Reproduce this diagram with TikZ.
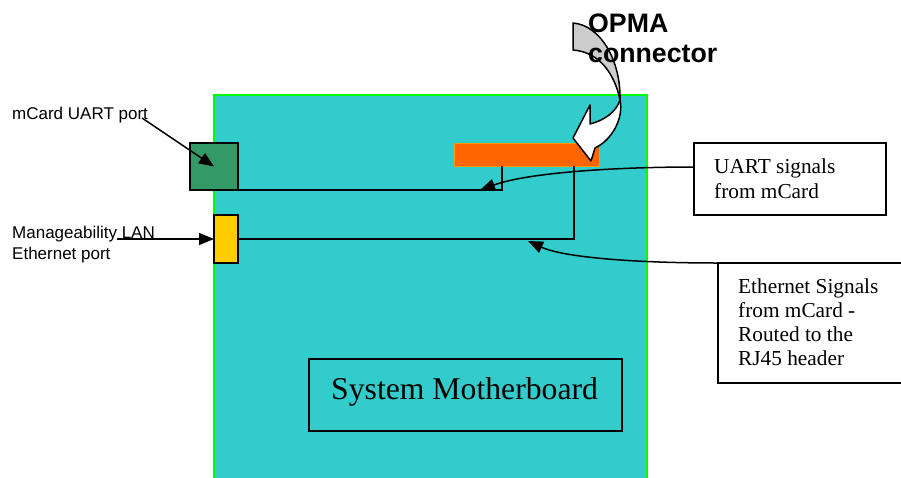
\documentclass[tikz,border=0pt]{standalone}
\usepackage{fontspec}
\newfontfamily\arialf{Liberation Sans}
\newfontfamily\timesf{Liberation Serif}
\usetikzlibrary{arrows.meta}
\definecolor{boardc}{HTML}{33CCCC}
\definecolor{boardedge}{HTML}{00FF00}
\definecolor{uartc}{HTML}{339966}
\definecolor{ethc}{HTML}{FFCC00}
\definecolor{opmac}{HTML}{FF6600}
\definecolor{opmaedge}{HTML}{FF9900}
\definecolor{backc}{HTML}{CCCCCC}
\tikzset{
  part/.style={rectangle, inner sep=0pt, outer sep=0pt, anchor=north west},
  board/.style={part, fill=boardc, draw=boardedge, line width=2pt},
  port/.style={part, draw=black, line width=1.5pt},
  labelbox/.style={part, draw=black, line width=1.5pt},
  wire/.style={draw=black, line width=1.5pt},
  pointer/.style={draw=black, line width=1.5pt, -{Triangle[length=15pt,width=12pt]}},
  sanslabel/.style={inner sep=0pt, anchor=base west, font=\arialf\fontsize{17}{20}\selectfont},
  seriflabel/.style={inner sep=0pt, anchor=base west, font=\timesf\fontsize{21.3}{24}\selectfont},
  titlelabel/.style={inner sep=0pt, anchor=base west, font=\arialf\bfseries\fontsize{26.7}{31}\selectfont},
  bigserif/.style={inner sep=0pt, anchor=base west, font=\timesf\fontsize{31.7}{36}\selectfont},
  bentarrow/.style={draw=black, line width=1.5pt, line join=round}
}
\begin{document}
\begin{tikzpicture}[x=1pt,y=-1pt]
\clip (0,0) rectangle (901,477);
\fill[white] (0,0) rectangle (901,477);

% motherboard
\node[board, minimum width=433, minimum height=400] (board) at (214,95) {};

% ports and connector
\node[port, fill=uartc, minimum width=48, minimum height=47] (uartport) at (190,143) {};
\node[port, fill=ethc, minimum width=24, minimum height=48] (ethport) at (214,215) {};
\node[part, fill=opmac, draw=opmaedge, line width=1pt, minimum width=145, minimum height=23] (opma) at (454,143) {};

% wires
\coordinate (uartup) at (502,166);
\coordinate (ethup) at (574,166);
\draw[wire] (uartport.south east) -| (uartup);
\draw[wire] (ethport.east) -| (ethup);

% callout boxes
\node[labelbox, fill=white, minimum width=192, minimum height=72] (uartbox) at (694,143) {};
\node[labelbox, fill=white, minimum width=190, minimum height=120] (ethbox) at (718,263) {};
\node[labelbox, minimum width=313, minimum height=72] (mbbox) at (309,359) {};

% callout texts
\node[seriflabel] (ut1) at (714,173) {UART signals};
\node[seriflabel] (ut2) at (714,198) {from mCard};
\node[seriflabel] (et1) at (738,293) {Ethernet Signals};
\node[seriflabel] (et2) at (738,317) {from mCard -};
\node[seriflabel] (et3) at (738,341) {Routed to the};
\node[seriflabel] (et4) at (738,365) {RJ45 header};
\node[bigserif] (mbt) at (331,399) {System Motherboard};

% callout arrows
\coordinate (uartin) at (694,167);
\coordinate (uarttip) at (480,190);
\coordinate (ethtip) at (528,241);
\draw[pointer] (uartin) .. controls (620,167) and (530,172) .. (uarttip);
\draw[pointer] (ethbox.north west) .. controls (640,263) and (565,258) .. (ethtip);

% left labels
\node[sanslabel] (lu) at (12,119) {mCard UART port};
\node[sanslabel] (lm1) at (12,238) {Manageability LAN};
\node[sanslabel] (lm2) at (12,259) {Ethernet port};
\coordinate (lustart) at (142,118);
\coordinate (lmstart) at (117,239);
\draw[pointer] (lustart) -- (uartport.center);
\draw[pointer] (lmstart) -- (ethport.west);

% OPMA curved arrow
\filldraw[bentarrow, fill=backc] (573,23) .. controls (600,25) and (621,60) .. (620,100)
   .. controls (615,75) and (600,52) .. (573,50) -- cycle;
\filldraw[bentarrow, fill=white] (620,100) .. controls (624,118) and (612,140) .. (595,148)
   -- (591,161) -- (573,138) -- (590,105) -- (590,124)
   .. controls (605,120) and (616,112) .. (620,100) -- cycle;
\node[titlelabel] (opt1) at (588,32) {OPMA};
\node[titlelabel] (opt2) at (588,62) {connector};
\end{tikzpicture}
\end{document}
